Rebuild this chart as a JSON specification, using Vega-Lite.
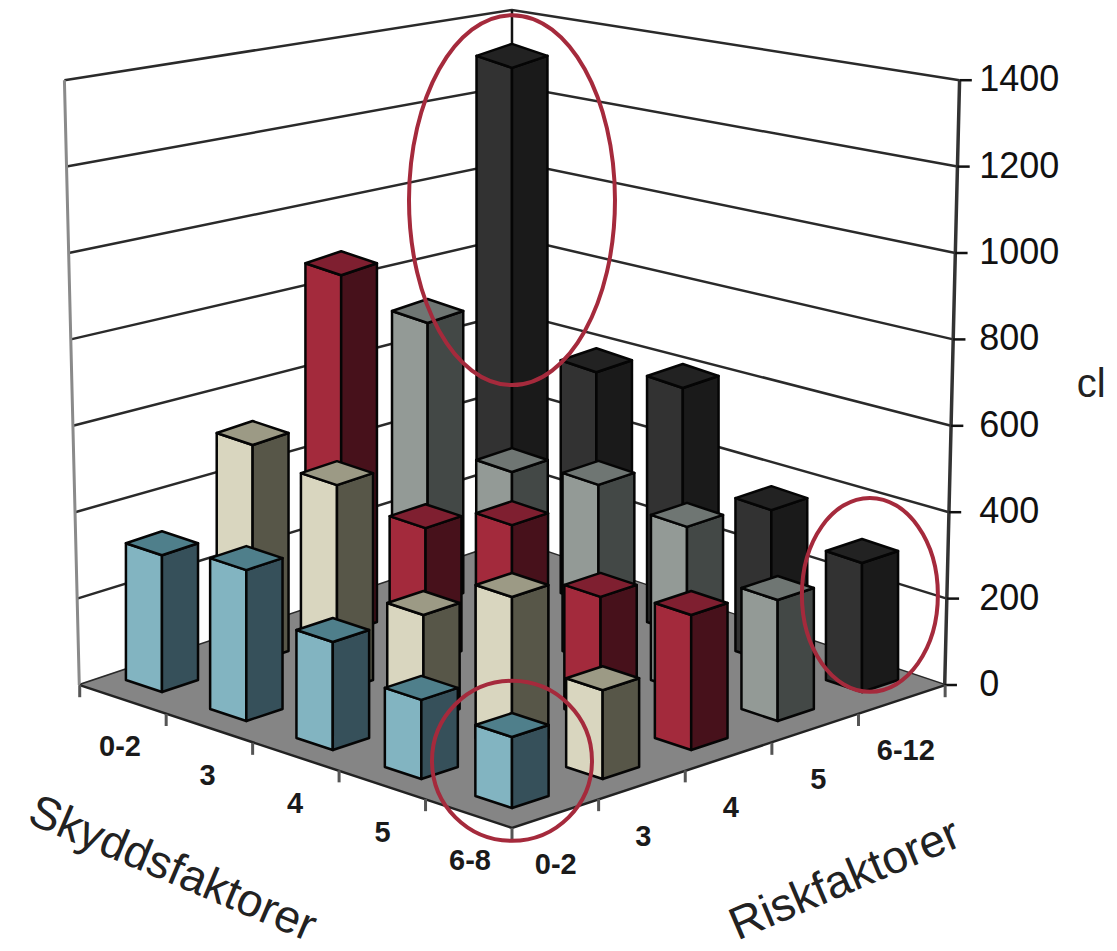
{
"$schema":"https://vega.github.io/schema/vega-lite/v6.json",
"width":1117,"height":951,"padding":0,
"autosize":{"type":"none"},
"background":"white",
"view":{"stroke":null},
"datasets":{
"bars":[
{"skydd":"0-2","risk":"6-12","cl":1303},
{"skydd":"0-2","risk":"5","cl":705},
{"skydd":"3","risk":"6-12","cl":582},
{"skydd":"0-2","risk":"4","cl":875},
{"skydd":"3","risk":"5","cl":395},
{"skydd":"4","risk":"6-12","cl":600},
{"skydd":"0-2","risk":"3","cl":519},
{"skydd":"3","risk":"4","cl":321},
{"skydd":"4","risk":"5","cl":424},
{"skydd":"5","risk":"6-12","cl":364},
{"skydd":"0-2","risk":"0-2","cl":318},
{"skydd":"3","risk":"3","cl":481},
{"skydd":"4","risk":"4","cl":388},
{"skydd":"5","risk":"5","cl":384},
{"skydd":"6-8","risk":"6-12","cl":300},
{"skydd":"3","risk":"0-2","cl":343},
{"skydd":"4","risk":"3","cl":241},
{"skydd":"5","risk":"4","cl":282},
{"skydd":"6-8","risk":"5","cl":275},
{"skydd":"4","risk":"0-2","cl":240},
{"skydd":"5","risk":"3","cl":340},
{"skydd":"6-8","risk":"4","cl":300},
{"skydd":"5","risk":"0-2","cl":172},
{"skydd":"6-8","risk":"3","cl":193},
{"skydd":"6-8","risk":"0-2","cl":151}
],
"levels":[{"level":0},{"level":200},{"level":400},{"level":600},{"level":800},{"level":1000},{"level":1200},{"level":1400}],
"floor":[{"X":-0.94,"Y":-12,"Y2":-12},{"X":4,"Y":-344,"Y2":325},{"X":8.95,"Y":-12,"Y2":-12}],
"edgeTicks":[
{"X":-0.94,"Y":-12},{"X":0.048,"Y":-79},{"X":1.036,"Y":-146},{"X":2.024,"Y":-210},{"X":3.012,"Y":-277},{"X":4,"Y":-344},
{"X":4.99,"Y":-277},{"X":5.98,"Y":-210},{"X":6.97,"Y":-146},{"X":7.96,"Y":-79},{"X":8.95,"Y":-12}
],
"skyddLabels":[{"label":"0-2"},{"label":"3"},{"label":"4"},{"label":"5"},{"label":"6-8"}],
"riskLabels":[{"label":"0-2"},{"label":"3"},{"label":"4"},{"label":"5"},{"label":"6-12"}]
},
"encoding":{
"x":{"field":"X","type":"quantitative","axis":null,"scale":{"domain":[-1.851,10.914],"nice":false,"zero":false}},
"y":{"field":"Y","type":"quantitative","axis":null,"scale":{"domain":[-630.2,1581.4],"nice":false,"zero":false}}
},
"layer":[
{
"data":{"name":"levels"},
"transform":[
{"calculate":"[-1,0,1]","as":"pos"},{"flatten":["pos"]},
{"calculate":"4+datum.pos*(4.945+0.17*datum.level/1400)","as":"X"},
{"calculate":"(680-(abs(datum.pos)*(685-datum.level*0.432)+(1-abs(datum.pos))*(540-datum.level*0.3786)))/0.43","as":"Y"}
],
"layer":[
{"mark":{"type":"line","stroke":"#2a2a2a","strokeWidth":2.5},"encoding":{"detail":{"field":"level"}}},
{"transform":[{"filter":"datum.pos===-1"}],"mark":{"type":"line","stroke":"#8a8a8a","strokeWidth":3},"encoding":{"order":{"field":"level"}}},
{"transform":[{"filter":"datum.pos===0"}],"mark":{"type":"line","stroke":"#111111","strokeWidth":2.5},"encoding":{"order":{"field":"level"}}},
{"transform":[{"filter":"datum.pos===1"}],"mark":{"type":"line","stroke":"#333333","strokeWidth":3.5},"encoding":{"order":{"field":"level"}}},
{"transform":[{"filter":"datum.pos===1"},{"calculate":"datum.X+0.14","as":"X2"}],"mark":{"type":"rule","stroke":"#111111","strokeWidth":2.5},"encoding":{"x2":{"field":"X2"}}},
{"transform":[{"filter":"datum.pos===1"},{"calculate":"9.34","as":"X"},{"calculate":"format(datum.level,'d')","as":"t"}],"mark":{"type":"text","align":"left","baseline":"middle","font":"Liberation Sans","fontSize":36,"fill":"#111111"},"encoding":{"text":{"field":"t"}}}
]
},
{
"data":{"name":"floor"},
"mark":{"type":"area","fill":"#858585"},
"encoding":{"y2":{"field":"Y2"}}
},
{
"data":{"name":"floor"},
"mark":{"type":"line","stroke":"#222222","strokeWidth":2.5}
},
{
"data":{"name":"edgeTicks"},
"transform":[{"calculate":"datum.Y-28","as":"Y2"}],
"mark":{"type":"rule","stroke":"#555555","strokeWidth":3},
"encoding":{"y2":{"field":"Y2"}}
},
{
"data":{"name":"bars"},
"transform":[
{"calculate":"indexof(['0-2','3','4','5','6-8'],datum.skydd)","as":"s"},
{"calculate":"indexof(['0-2','3','4','5','6-12'],datum.risk)","as":"r"},
{"calculate":"[{f:'L',a:-1},{f:'L',a:0},{f:'R',a:0},{f:'R',a:1},{f:'T',a:-1},{f:'T',a:0},{f:'T',a:1}]","as":"v"},
{"flatten":["v"]},
{"calculate":"datum.v.f","as":"face"},
{"calculate":"datum.v.a","as":"a"},
{"calculate":"4+(datum.s+datum.r-4)*(1+0.012*(datum.s-datum.r))+0.412*(1+0.004*(datum.s-datum.r))*datum.a","as":"X"},
{"calculate":"(datum.r-datum.s)*67.44","as":"G"},
{"calculate":"datum.cl*(0.39+0.01*(datum.s-datum.r+4))/0.43","as":"H"},
{"calculate":"(1-abs(datum.a))*27.9","as":"off"},
{"calculate":"datum.face==='T'?datum.G+datum.H-datum.off:datum.G-datum.off","as":"Y"},
{"calculate":"datum.face==='T'?datum.G+datum.H+datum.off:datum.G-datum.off+datum.H","as":"Y2"},
{"calculate":"datum.skydd+'|'+datum.risk+'|'+datum.face","as":"id"},
{"calculate":"datum.risk+'|'+datum.face","as":"ck"}
],
"mark":{"type":"area","stroke":"#050505","strokeWidth":2.5,"strokeJoin":"round"},
"encoding":{
"y2":{"field":"Y2"},
"detail":{"field":"id"},
"color":{"field":"ck","type":"nominal","legend":null,"scale":{
"domain":["0-2|L","0-2|R","0-2|T","3|L","3|R","3|T","4|L","4|R","4|T","5|L","5|R","5|T","6-12|L","6-12|R","6-12|T"],
"range":["#82b4c1","#36505a","#4f7f8b","#d9d6bf","#575648","#9c9a85","#a32a3c","#47111b","#7f1f30","#939a96","#434846","#6f7673","#323232","#1a1a1a","#222222"]}}
}
},
{
"data":{"name":"skyddLabels"},
"transform":[
{"calculate":"indexof(['0-2','3','4','5','6-8'],datum.label)","as":"i"},
{"calculate":"datum.i-0.48","as":"X"},
{"calculate":"(680-(747+28.5*datum.i))/0.43","as":"Y"}
],
"mark":{"type":"text","font":"Liberation Sans","fontSize":29,"fill":"#1a1a1a","fontWeight":"bold","baseline":"middle"},
"encoding":{"text":{"field":"label"}}
},
{
"data":{"name":"riskLabels"},
"transform":[
{"calculate":"indexof(['0-2','3','4','5','6-12'],datum.label)","as":"i"},
{"calculate":"datum.i+4.5","as":"X"},
{"calculate":"(680-(865-28.5*datum.i))/0.43","as":"Y"}
],
"mark":{"type":"text","font":"Liberation Sans","fontSize":29,"fill":"#1a1a1a","fontWeight":"bold","baseline":"middle"},
"encoding":{"text":{"field":"label"}}
},
{
"data":{"values":[{"label":"Skyddsfaktorer","X":0.12,"Y":-440}]},
"mark":{"type":"text","font":"Liberation Sans","fontSize":46,"angle":23,"fill":"#222222","baseline":"middle"},
"encoding":{"text":{"field":"label"}}
},
{
"data":{"values":[{"label":"Riskfaktorer","X":7.806,"Y":-465}]},
"mark":{"type":"text","font":"Liberation Sans","fontSize":46,"angle":-23,"fill":"#222222","baseline":"middle"},
"encoding":{"text":{"field":"label"}}
},
{
"data":{"values":[{"label":"cl","X":10.62,"Y":686}]},
"mark":{"type":"text","font":"Liberation Sans","fontSize":40,"fill":"#222222","baseline":"middle"},
"encoding":{"text":{"field":"label"}}
},
{
"data":{"values":[{"X":4,"Y":1116}]},
"mark":{"type":"point","filled":false,"stroke":"#a52a3c","strokeWidth":4,"opacity":1,"size":42436,"shape":"M-1,0 A1,1.796 0 1,1 1,0 A1,1.796 0 1,1 -1,0 Z"}
},
{
"data":{"values":[{"X":4,"Y":-188}]},
"mark":{"type":"point","filled":false,"stroke":"#a52a3c","strokeWidth":4,"opacity":1,"size":25600,"shape":"M-1,0 A1,1 0 1,1 1,0 A1,1 0 1,1 -1,0 Z"}
},
{
"data":{"values":[{"X":8.09,"Y":198}]},
"mark":{"type":"point","filled":false,"stroke":"#a52a3c","strokeWidth":4,"opacity":1,"size":18496,"shape":"M-1,0 A1,1.426 0 1,1 1,0 A1,1.426 0 1,1 -1,0 Z"}
}
]
}
